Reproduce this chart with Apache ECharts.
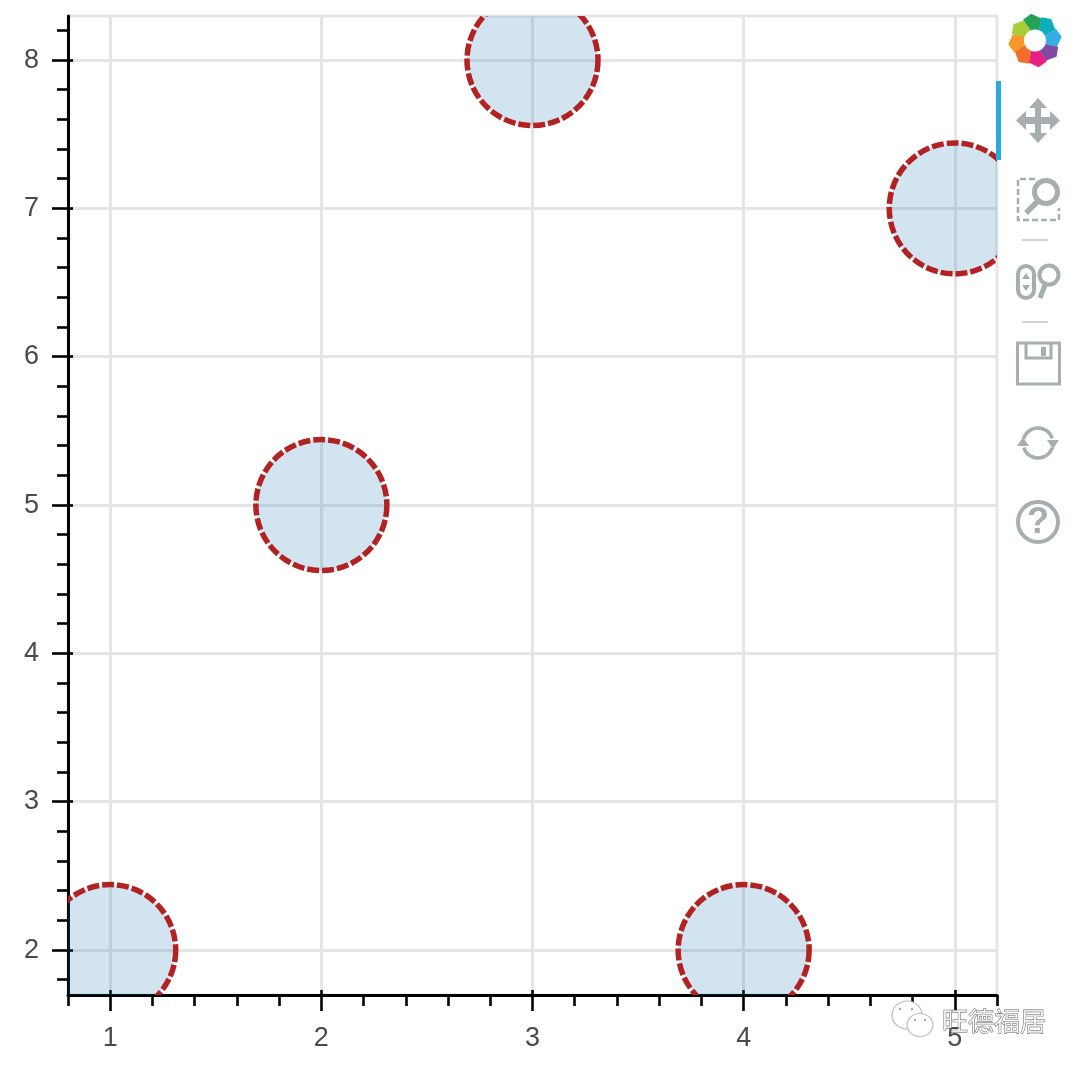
<!DOCTYPE html>
<html>
<head>
<meta charset="utf-8">
<style>html,body{margin:0;padding:0;background:#fff}#c{width:1080px;height:1068px}</style>
<script src="https://cdn.jsdelivr.net/npm/echarts@6/dist/echarts.min.js"></script>
</head>
<body>
<div id="c"></div>
<script>
const xValues = [1, 2, 3, 4, 5];
const yValues = [2, 5, 8, 2, 7];
const xMajorTicks = [1, 2, 3, 4, 5];
const yMajorTicks = [2, 3, 4, 5, 6, 7, 8];
const xMinorTicks = [0.8, 1.2, 1.4, 1.6, 1.8, 2.2, 2.4, 2.6, 2.8, 3.2, 3.4, 3.6, 3.8, 4.2, 4.4, 4.6, 4.8, 5.2];
const yMinorTicks = [1.8, 2.2, 2.4, 2.6, 2.8, 3.2, 3.4, 3.6, 3.8, 4.2, 4.4, 4.6, 4.8, 5.2, 5.4, 5.6, 5.8, 6.2, 6.4, 6.6, 6.8, 7.2, 7.4, 7.6, 7.8, 8.2];
const xRange = [0.8, 5.2];
const yRange = [1.697, 8.297];
const watermark = '旺德福居';

const INK = '#000', GRID = '#e5e5e5', LABEL = '#4a4a4a', TOOL = '#a6aeb0';
const FONT = '"Liberation Sans", Arial, sans-serif';

function axis(kind, range, pos, ticks, opts) {
  return Object.assign({
    type: 'value', position: pos, min: range[0], max: range[1],
    axisLine: { show: false, onZero: false },
    axisTick: { show: true, customValues: ticks, length: opts.len, inside: !!opts.inside,
      lineStyle: { color: INK, width: 2.6 } },
    axisLabel: { show: false, customValues: ticks },
    splitLine: { show: false }, minorTick: { show: false }, minorSplitLine: { show: false }
  }, opts.extra || {});
}
function mainExtra(ticks, margin) {
  return {
    axisLine: { show: true, onZero: false, lineStyle: { color: INK, width: 3 } },
    axisLabel: { show: true, customValues: ticks, margin: margin, color: LABEL, fontSize: 27,
      fontFamily: FONT, showMinLabel: true, showMaxLabel: true },
    splitLine: { show: true, lineStyle: { color: GRID, width: 3 } }
  };
}

function petal(i, col) {
  const a0 = i * 45 - 112;
  const p = (r, d) => { const t = (a0 + d) * Math.PI / 180; return [1035 + r * Math.cos(t), 40.5 + r * Math.sin(t)]; };
  return { type: 'polygon', z: 20, shape: { points: [p(9, 0), p(24, -8), p(27, 14), p(23, 38), p(9, 46)] },
    style: { fill: col, opacity: 0.95 }, silent: true };
}
const stroke = (w) => ({ fill: 'none', stroke: TOOL, lineWidth: w });
const logoColours = ['#1a9e50', '#00a9b5', '#29aae1', '#7a3f9d', '#e5157f', '#f26522', '#f7931e', '#a4c92f'];

const graphics = [
  ...logoColours.map((c, i) => petal(i, c)),
  { type: 'circle', z: 21, shape: { cx: 1035, cy: 40.5, r: 11 }, style: { fill: '#fff' } },
  // active tool bar
  { type: 'rect', z: 25, shape: { x: 996, y: 81, width: 5, height: 79 }, style: { fill: '#26aae1' } },
  // pan
  { type: 'polygon', z: 20, shape: { points: [[1038,98],[1047,108],[1041,108],[1041,117],[1050,117],[1050,111],[1060,120.5],[1050,130],[1050,124],[1041,124],[1041,133],[1047,133],[1038,143],[1029,133],[1035,133],[1035,124],[1026,124],[1026,130],[1016,120.5],[1026,111],[1026,117],[1035,117],[1035,108],[1029,108]] }, style: { fill: TOOL } },
  // box zoom
  { type: 'polyline', z: 20, shape: { points: [[1035,179],[1018,179],[1018,220],[1059,220],[1059,208]] }, style: { fill: 'none', stroke: TOOL, lineWidth: 2.5, lineDash: [6, 3] } },
  { type: 'circle', z: 20, shape: { cx: 1046, cy: 192, r: 11.5 }, style: stroke(5) },
  { type: 'line', z: 20, shape: { x1: 1038, y1: 201, x2: 1026, y2: 213 }, style: { stroke: TOOL, lineWidth: 5.5 } },
  { type: 'line', z: 20, shape: { x1: 1022, y1: 240, x2: 1048, y2: 240 }, style: { stroke: '#d0d4d5', lineWidth: 2 } },
  // wheel zoom
  { type: 'rect', z: 20, shape: { x: 1018, y: 266, width: 16, height: 32, r: 8 }, style: stroke(4) },
  { type: 'polygon', z: 20, shape: { points: [[1026,273],[1030,279],[1022,279]] }, style: { fill: TOOL } },
  { type: 'polygon', z: 20, shape: { points: [[1026,291],[1030,285],[1022,285]] }, style: { fill: TOOL } },
  { type: 'circle', z: 20, shape: { cx: 1049, cy: 275, r: 9.5 }, style: stroke(4) },
  { type: 'line', z: 20, shape: { x1: 1045, y1: 285, x2: 1040, y2: 298 }, style: { stroke: TOOL, lineWidth: 5 } },
  { type: 'line', z: 20, shape: { x1: 1022, y1: 322, x2: 1048, y2: 322 }, style: { stroke: '#d0d4d5', lineWidth: 2 } },
  // save
  { type: 'rect', z: 20, shape: { x: 1017.5, y: 343, width: 42, height: 41 }, style: stroke(3) },
  { type: 'polyline', z: 20, shape: { points: [[1026,343],[1026,358],[1051,358],[1051,343]] }, style: stroke(3) },
  { type: 'rect', z: 20, shape: { x: 1041, y: 347, width: 5, height: 9 }, style: { fill: TOOL } },
  // reset
  { type: 'arc', z: 20, shape: { cx: 1038, cy: 443, r: 15, startAngle: Math.PI * 1.1, endAngle: Math.PI * 1.9, clockwise: true }, style: stroke(3.5) },
  { type: 'arc', z: 20, shape: { cx: 1038, cy: 443, r: 15, startAngle: Math.PI * 0.1, endAngle: Math.PI * 0.9, clockwise: true }, style: stroke(3.5) },
  { type: 'polygon', z: 20, shape: { points: [[1059,440],[1047,440],[1053,449]] }, style: { fill: TOOL } },
  { type: 'polygon', z: 20, shape: { points: [[1017,446],[1029,446],[1023,437]] }, style: { fill: TOOL } },
  // help
  { type: 'circle', z: 20, shape: { cx: 1038, cy: 522, r: 20 }, style: stroke(4) },
  { type: 'text', z: 20, style: { x: 1038, y: 523, text: '?', fill: TOOL, font: 'bold 36px "Liberation Sans"', textAlign: 'center', textVerticalAlign: 'middle' } },
  // watermark
  { type: 'ellipse', z: 30, shape: { cx: 907, cy: 1015, rx: 15, ry: 14 }, style: { fill: '#fff', stroke: '#bbb', lineWidth: 1.2 } },
  { type: 'ellipse', z: 31, shape: { cx: 920, cy: 1025, rx: 13, ry: 11.5 }, style: { fill: '#fff', stroke: '#bbb', lineWidth: 1.2 } },
  { type: 'circle', z: 32, shape: { cx: 900, cy: 1009, r: 1.2 }, style: { fill: '#aaa' } },
  { type: 'circle', z: 32, shape: { cx: 912, cy: 1009, r: 1.2 }, style: { fill: '#aaa' } },
  { type: 'circle', z: 32, shape: { cx: 915, cy: 1020, r: 1.2 }, style: { fill: '#aaa' } },
  { type: 'circle', z: 32, shape: { cx: 925, cy: 1020, r: 1.2 }, style: { fill: '#aaa' } },
  { type: 'text', z: 32, style: { x: 942, y: 1021, text: watermark, fill: 'rgba(255,255,255,0.75)', stroke: '#5a5a5a', lineWidth: 0.8,
      font: '26px "Noto Sans CJK SC"', textVerticalAlign: 'middle' } }
];

const chart = echarts.init(document.getElementById('c'), null, { renderer: 'canvas' });
chart.setOption({
  animation: false,
  backgroundColor: '#fff',
  tooltip: { show: false },
  grid: { left: 68, right: 83, top: 16, bottom: 73, show: true, borderColor: GRID, borderWidth: 3, backgroundColor: 'transparent' },
  xAxis: [
    axis('x', xRange, 'bottom', xMajorTicks, { len: 16, extra: mainExtra(xMajorTicks, 30) }),
    axis('x', xRange, 'bottom', xMajorTicks, { len: 5, inside: true }),
    axis('x', xRange, 'bottom', xMinorTicks, { len: 11 })
  ],
  yAxis: [
    axis('y', yRange, 'left', yMajorTicks, { len: 16, extra: mainExtra(yMajorTicks, 29) }),
    axis('y', yRange, 'left', yMajorTicks, { len: 5, inside: true }),
    axis('y', yRange, 'left', yMinorTicks, { len: 11 })
  ],
  series: [{
    type: 'custom',
    coordinateSystem: 'cartesian2d',
    xAxisIndex: 0, yAxisIndex: 0,
    clip: true,
    silent: true,
    data: xValues.map((x, i) => [x, yValues[i]]),
    renderItem: function (params, api) {
      const c = api.coord([api.value(0), api.value(1)]);
      return { type: 'circle', shape: { cx: c[0], cy: c[1], r: 65.5 },
        style: { fill: 'rgba(31,119,180,0.2)', stroke: '#b22222', lineWidth: 5.5, lineDash: [12, 3] } };
    }
  }],
  graphic: graphics
});
</script>
</body>
</html>
